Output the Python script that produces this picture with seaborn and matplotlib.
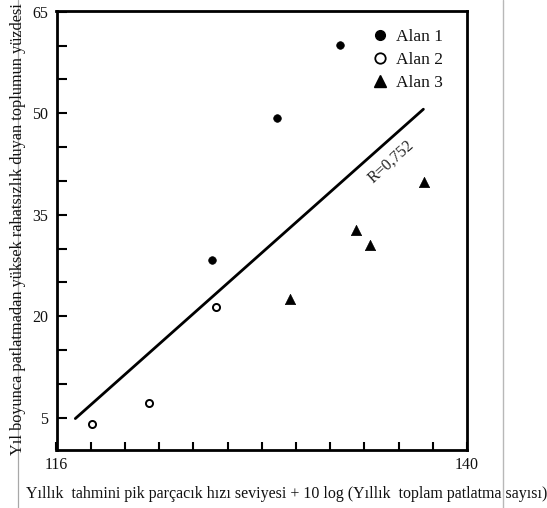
import matplotlib
matplotlib.use("Agg")
import matplotlib.pyplot as plt
from matplotlib.lines import Line2D
import seaborn as sns
import pandas as pd

# ---- data ----
alan1_x = [132.6, 128.9, 125.1]
alan1_y = [60.1, 49.3, 28.3]
alan2_x = [125.3, 121.4, 118.1]
alan2_y = [21.4, 7.1, 4.1]
alan3_x = [129.65, 133.5, 134.35, 137.5]
alan3_y = [22.5, 32.8, 30.5, 39.9]
fit_x = [117.1, 137.45]
fit_y = [4.85, 50.6]
series_names = ["Alan 1", "Alan 2", "Alan 3"]
x_ticks = [116, 118, 120, 122, 124, 126, 128, 130, 132, 134, 136, 138, 140]
x_labelled = [116, 140]
y_ticks = [5, 10, 15, 20, 25, 30, 35, 40, 45, 50, 55, 60, 65]
y_labelled = [5, 20, 35, 50, 65]
r_text = "R=0,752"
x_label = "Yıllık  tahmini pik parçacık hızı seviyesi + 10 log (Yıllık  toplam patlatma sayısı)"
y_label = "Yıl boyunca patlatmadan yüksek rahatsızlık duyan toplumun yüzdesi"

sns.set_theme(style="white")
plt.rcParams["font.family"] = ["Liberation Serif", "DejaVu Serif"]

fig = plt.figure(figsize=(5.47, 5.08), dpi=100)
ax = fig.add_axes([56.5 / 547, 1 - 450 / 508, (467 - 56.5) / 547, (450 - 10.5) / 508])

# thin gray cell-border lines of the source document
fig.add_artist(Line2D([17.5 / 547, 17.5 / 547], [0, 1], transform=fig.transFigure,
                      color="#a8a8a8", lw=0.9, zorder=0))
fig.add_artist(Line2D([503 / 547, 503 / 547], [0, 1], transform=fig.transFigure,
                      color="#b8b8b8", lw=1.0, zorder=0))

df1 = pd.DataFrame({"x": alan1_x, "y": alan1_y})
df2 = pd.DataFrame({"x": alan2_x, "y": alan2_y})
df3 = pd.DataFrame({"x": alan3_x, "y": alan3_y})
dfit = pd.DataFrame({"x": fit_x, "y": fit_y})

sns.lineplot(data=dfit, x="x", y="y", ax=ax, color="black", lw=2.0, zorder=2)
sns.scatterplot(data=df1, x="x", y="y", ax=ax, marker="o", s=30, color="black",
                edgecolor="black", linewidth=0.5, zorder=3)
sns.scatterplot(data=df2, x="x", y="y", ax=ax, marker="o", s=26, facecolor="white",
                edgecolor="black", linewidth=1.4, zorder=3)
sns.scatterplot(data=df3, x="x", y="y", ax=ax, marker="^", s=55, color="black",
                edgecolor="black", linewidth=0.5, zorder=3)

ax.set_xlim(116, 140)
ax.set_ylim(0.2, 65.2)

ax.set_xticks(x_ticks)
ax.set_xticklabels([str(t) if t in x_labelled else "" for t in x_ticks])
ax.set_yticks(y_ticks)
ax.set_yticklabels([str(t) if t in y_labelled else "" for t in y_ticks])
ax.tick_params(axis="x", direction="in", length=6, width=1.5, color="black",
               labelsize=11.5, labelcolor="#111111", pad=5, bottom=True, top=False)
ax.tick_params(axis="y", direction="in", length=7, width=1.5, color="black",
               labelsize=11.5, labelcolor="#111111", pad=6, left=True, right=False)

for sp in ax.spines.values():
    sp.set_visible(True)
    sp.set_color("black")
    sp.set_linewidth(2.0)

ax.set_xlabel(x_label, fontsize=11.5, color="#111111", ha="center", va="center")
ax.xaxis.set_label_coords(0.56, -0.10)
ax.set_ylabel(y_label, fontsize=11.7, color="#111111", ha="center", va="center")
ax.yaxis.set_label_coords(-0.094, 0.503)

ax.text(135.57, 42.9, r_text, rotation=42, ha="center", va="center",
        rotation_mode="anchor", fontsize=11.5, color="#222222")

handles = [
    Line2D([], [], ls="none", marker="o", ms=7, mfc="black", mec="black"),
    Line2D([], [], ls="none", marker="o", ms=7.5, mfc="white", mec="black", mew=1.3),
    Line2D([], [], ls="none", marker="^", ms=8, mfc="black", mec="black"),
]
leg = ax.legend(handles, series_names, loc="upper left", bbox_to_anchor=(0.767, 0.958),
                frameon=False, fontsize=12.5, handlelength=1.0, handletextpad=0.4,
                borderpad=0, borderaxespad=0, labelspacing=0.38)
for t in leg.get_texts():
    t.set_color("#111111")

fig.savefig("out.png", dpi=100)
